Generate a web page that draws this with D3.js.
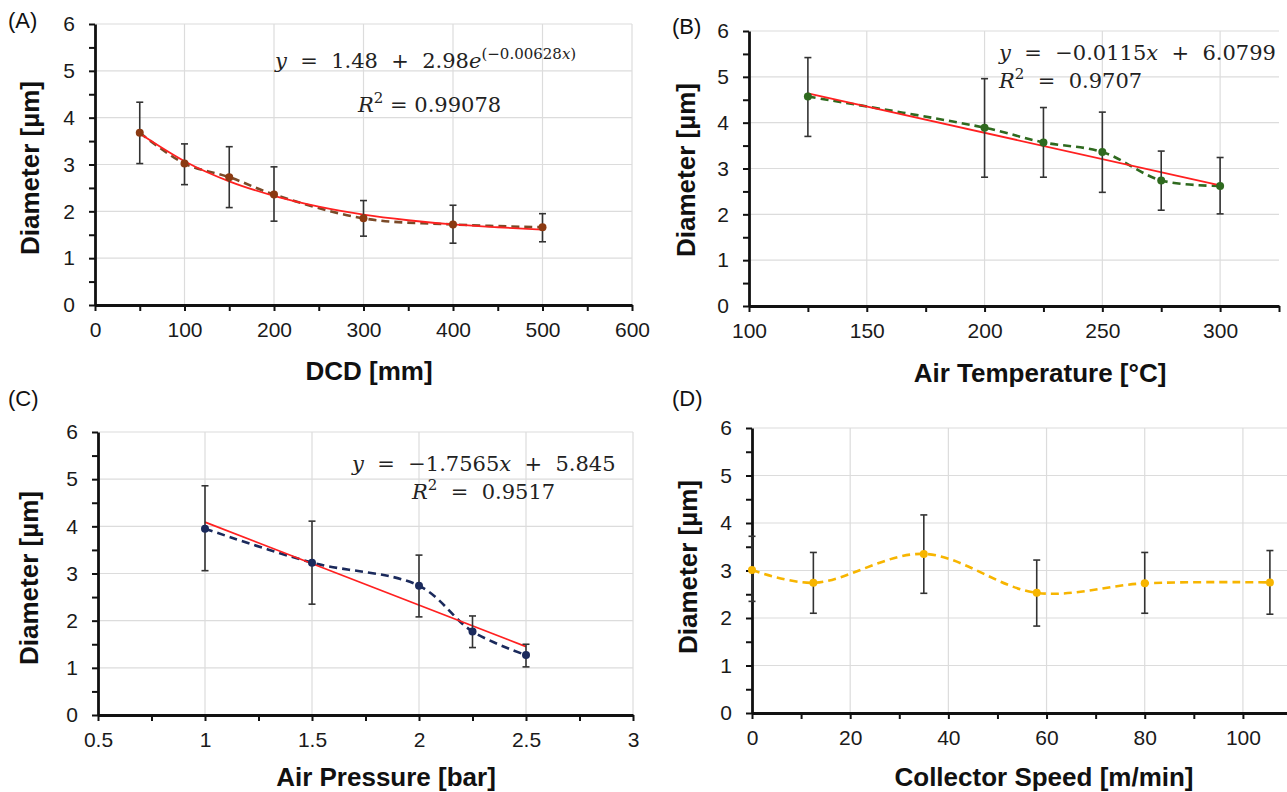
<!DOCTYPE html>
<html><head><meta charset="utf-8">
<script src="https://cdn.jsdelivr.net/npm/d3@7"></script>
<style>
body{margin:0;background:#fff}
</style>
</head><body>
<svg id="c" width="1287" height="792" xmlns="http://www.w3.org/2000/svg"></svg>
<script>
// ---------- DATA ----------
// (A) DCD
const dcdX      = [50, 100, 150, 200, 300, 400, 500];
const dcdDiam   = [3.68, 3.02, 2.73, 2.36, 1.85, 1.72, 1.66];
const dcdErrHi  = [4.33, 3.44, 3.38, 2.95, 2.23, 2.13, 1.95];
const dcdErrLo  = [3.02, 2.57, 2.08, 1.79, 1.47, 1.32, 1.35];
const dcdFitX   = [50, 100, 150, 200, 250, 300, 350, 400, 450, 500];
const dcdFitY   = [3.66, 3.07, 2.64, 2.33, 2.10, 1.93, 1.81, 1.72, 1.66, 1.61];
const dcdTicks  = [0, 100, 200, 300, 400, 500, 600];

// (B) Air temperature
const tempX     = [125, 200, 225, 250, 275, 300];
const tempDiam  = [4.57, 3.89, 3.57, 3.36, 2.74, 2.62];
const tempErrHi = [5.42, 4.96, 4.33, 4.23, 3.38, 3.24];
const tempErrLo = [3.70, 2.81, 2.81, 2.48, 2.09, 2.01];
const tempFitX  = [125, 300];
const tempFitY  = [4.64, 2.63];
const tempTicks = [100, 150, 200, 250, 300];

// (C) Air pressure
const pressX     = [1, 1.5, 2, 2.25, 2.5];
const pressDiam  = [3.95, 3.23, 2.74, 1.77, 1.27];
const pressErrHi = [4.86, 4.11, 3.39, 2.10, 1.50];
const pressErrLo = [3.06, 2.35, 2.08, 1.43, 1.02];
const pressFitX  = [1, 2.5];
const pressFitY  = [4.09, 1.45];
const pressTicks = [0.5, 1, 1.5, 2, 2.5, 3];

// (D) Collector speed
const speedX     = [0, 12.5, 35, 58, 80, 105.5];
const speedDiam  = [3.01, 2.74, 3.35, 2.53, 2.73, 2.75];
const speedErrHi = [3.72, 3.38, 4.17, 3.22, 3.38, 3.42];
const speedErrLo = [2.35, 2.10, 2.52, 1.83, 2.10, 2.08];
const speedTicks = [0, 20, 40, 60, 80, 100];

const yTicks = [0, 1, 2, 3, 4, 5, 6];

const SANS = "Liberation Sans, Arial, sans-serif";
const SERIF = "DejaVu Serif, serif";

const svg = d3.select("#c");
svg.append("rect").attr("width",1287).attr("height",792).attr("fill","#fff");

function panel(o){
  const x = d3.scaleLinear().domain(o.xDomain).range(o.xRange);
  const y = d3.scaleLinear().domain([0,6]).range(o.yRange);
  const g = svg.append("g");
  const x0 = o.xRange[0], x1 = o.xRange[1];
  // grid
  g.selectAll(null).data(o.xTicks.filter(v=>v>o.xDomain[0])).join("line")
    .attr("x1",d=>x(d)).attr("x2",d=>x(d)).attr("y1",y(0)).attr("y2",y(6))
    .attr("stroke","#dcdcdc").attr("stroke-width",1.2);
  g.selectAll(null).data(yTicks.filter(v=>v>0)).join("line")
    .attr("x1",x0).attr("x2",x1).attr("y1",d=>y(d)).attr("y2",d=>y(d))
    .attr("stroke","#dcdcdc").attr("stroke-width",1.2);

  // minor ticks
  const xMinor = g.append("g").attr("transform",`translate(0,${y(0)})`)
    .call(d3.axisBottom(x).tickValues(o.xMinor).tickSize(6).tickSizeOuter(0).tickFormat(""));
  const yMinor = g.append("g").attr("transform",`translate(${x0},0)`)
    .call(d3.axisLeft(y).tickValues(d3.range(0.5,6,1)).tickSize(6).tickSizeOuter(0).tickFormat(""));
  // major axes
  const xa = g.append("g").attr("transform",`translate(0,${y(0)})`)
    .call(d3.axisBottom(x).tickValues(o.xTicks).tickSize(6).tickSizeOuter(0).tickPadding(11)
      .tickFormat(o.fmt||(d=>String(d))));
  const ya = g.append("g").attr("transform",`translate(${x0},0)`)
    .call(d3.axisLeft(y).tickValues(yTicks).tickSize(6).tickSizeOuter(0).tickPadding(14)
      .tickFormat(d=>String(d)));
  [xMinor,yMinor,xa,ya].forEach(a=>{
    a.select(".domain").attr("stroke","#111").attr("stroke-width",2.8);
    a.selectAll(".tick line").attr("stroke","#111").attr("stroke-width",2);
    a.selectAll("text").style("font-size","21px").style("font-family",SANS).attr("fill","#1a1a1a");
  });
  xMinor.select(".domain").remove(); yMinor.select(".domain").remove();

  // titles
  g.append("text").attr("x",o.xTitle[0]).attr("y",o.xTitle[1]).attr("text-anchor","middle")
    .style("font-family",SANS).style("font-size","26px").style("font-weight","bold").attr("fill","#111").text(o.xLabel);
  g.append("text").attr("transform",`translate(${o.yTitle[0]},${o.yTitle[1]}) rotate(-90)`)
    .attr("text-anchor","middle").style("font-family",SANS).style("font-size","26px").style("font-weight","bold")
    .attr("fill","#111").text("Diameter [µm]");
  g.append("text").attr("x",o.tag[0]).attr("y",o.tag[1]).style("font-family",SANS).style("font-size","22px")
    .attr("fill","#111").text(o.tagText);

  const fl = d3.line().x((d,i)=>x(o.fitX[i])).y(d=>y(d)).curve(d3.curveMonotoneX);
  // dashed smooth series
  const sl = d3.line().x((d,i)=>x(o.px[i])).y(d=>y(d)).curve(d3.curveCatmullRom.alpha(0.5));
  g.append("path").attr("d",sl(o.py)).attr("fill","none").attr("stroke",o.lineColor)
    .attr("stroke-width",2.6).attr("stroke-dasharray","8,5");
  // fit line
  if(o.fitX){
    g.append("path").attr("d",fl(o.fitY)).attr("fill","none").attr("stroke","#ff2020").attr("stroke-width",1.8);
  }
  // error bars
  const eb = g.selectAll(null).data(o.px).join("g");
  eb.append("line").attr("x1",d=>x(d)).attr("x2",d=>x(d))
    .attr("y1",(d,i)=>y(o.hi[i])).attr("y2",(d,i)=>y(o.lo[i])).attr("stroke","#333").attr("stroke-width",1.6);
  eb.append("line").attr("x1",d=>x(d)-3.5).attr("x2",d=>x(d)+3.5)
    .attr("y1",(d,i)=>y(o.hi[i])).attr("y2",(d,i)=>y(o.hi[i])).attr("stroke","#333").attr("stroke-width",1.6);
  eb.append("line").attr("x1",d=>x(d)-3.5).attr("x2",d=>x(d)+3.5)
    .attr("y1",(d,i)=>y(o.lo[i])).attr("y2",(d,i)=>y(o.lo[i])).attr("stroke","#333").attr("stroke-width",1.6);
  // points
  g.selectAll(null).data(o.px).join("circle").attr("cx",d=>x(d)).attr("cy",(d,i)=>y(o.py[i]))
    .attr("r",4).attr("fill",o.pointColor);
  // equation
  if(o.eq){
    o.eq.forEach(line=>{
      const t = g.append("text").attr("x",line.x).attr("y",line.y)
        .style("font-family",SERIF).style("font-size","21px").attr("fill","#222")
        .style("white-space","pre");
      line.parts.forEach(p=>{
        const ts = t.append("tspan").text(p[0]);
        if(p[1].includes("i")) ts.style("font-style","italic");
        if(p[1].includes("s")) ts.style("font-size","15px").attr("baseline-shift","9");
      });
    });
  }
}

panel({xDomain:[0,600], xRange:[95,632], yRange:[305,24], xTicks:dcdTicks, xMinor:d3.range(50,600,100),
  px:dcdX, py:dcdDiam, hi:dcdErrHi, lo:dcdErrLo, fitX:dcdFitX, fitY:dcdFitY,
  lineColor:"#7a4a28", pointColor:"#8b3a12",
  xLabel:"DCD [mm]", xTitle:[369,380], yTitle:[39,168], tag:[8,28], tagText:"(A)",
  eq:[{x:275,y:68,parts:[["y","i"],["  =  1.48  +  2.98",""],["e","i"],["(−0.00628","s"],["x","si"],[")","s"]]},
      {x:358,y:112,parts:[["R","i"],["2","s"],[" = 0.99078",""]]}]});

panel({xDomain:[100,325], xRange:[749,1279], yRange:[306,31], xTicks:tempTicks, xMinor:d3.range(125,326,50),
  px:tempX, py:tempDiam, hi:tempErrHi, lo:tempErrLo, fitX:tempFitX, fitY:tempFitY,
  lineColor:"#2f6a1f", pointColor:"#2f6a1f",
  xLabel:"Air Temperature [°C]", xTitle:[1040,382], yTitle:[695,170], tag:[672,34], tagText:"(B)",
  eq:[{x:999,y:60,parts:[["y","i"],["  =  −0.0115",""],["x","i"],["  +  6.0799",""]]},
      {x:999,y:88,parts:[["R","i"],["2","s"],["  =  0.9707",""]]}]});

panel({xDomain:[0.5,3], xRange:[98,633], yRange:[715,432], xTicks:pressTicks, xMinor:d3.range(0.75,3,0.5),
  px:pressX, py:pressDiam, hi:pressErrHi, lo:pressErrLo, fitX:pressFitX, fitY:pressFitY,
  lineColor:"#1b2a5c", pointColor:"#1b2a5c",
  xLabel:"Air Pressure [bar]", xTitle:[386,786], yTitle:[38,578], tag:[8,406], tagText:"(C)",
  eq:[{x:352,y:471,parts:[["y","i"],["  =  −1.7565",""],["x","i"],["  +  5.845",""]]},
      {x:412,y:499,parts:[["R","i"],["2","s"],["  =  0.9517",""]]}]});

panel({xDomain:[0,110], xRange:[752,1292], yRange:[713,428], xTicks:speedTicks, xMinor:d3.range(10,111,20),
  px:speedX, py:speedDiam, hi:speedErrHi, lo:speedErrLo,
  lineColor:"#f7b500", pointColor:"#f7b500",
  xLabel:"Collector Speed [m/min]", xTitle:[1044,786], yTitle:[697,567], tag:[672,406], tagText:"(D)"});
</script>
</body></html>
